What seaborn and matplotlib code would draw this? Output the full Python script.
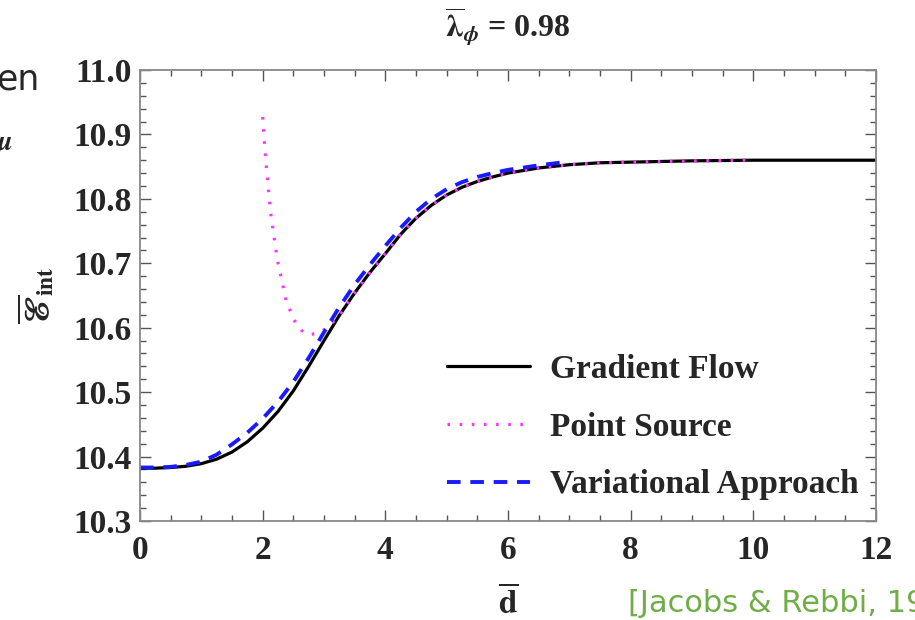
import seaborn as sns
import matplotlib.pyplot as plt
import matplotlib.ticker as mticker
import pandas as pd

# values
gf_d = [0, 0.25, 0.5, 0.75, 1.0, 1.25, 1.5, 1.75, 2.0, 2.25, 2.5, 2.75, 3.0, 3.25,
        3.5, 3.75, 4.0, 4.25, 4.5, 4.75, 5.0, 5.25, 5.5, 5.75, 6.0, 6.5, 7.0, 7.5,
        8.0, 9.0, 10.0, 12.0]
gf_e = [10.382, 10.382, 10.383, 10.385, 10.389, 10.396, 10.407, 10.423, 10.444,
        10.470, 10.502, 10.540, 10.580, 10.619, 10.654, 10.686, 10.715, 10.745,
        10.770, 10.790, 10.806, 10.818, 10.827, 10.834, 10.840, 10.848, 10.853,
        10.856, 10.857, 10.859, 10.860, 10.860]

ps_d = [2.0, 2.05, 2.13, 2.24, 2.38, 2.51, 2.63, 2.75, 2.92, 3.07, 3.25, 3.5, 3.75,
        4.0, 4.25, 4.5, 4.75, 5.0, 5.25, 5.5, 5.75, 6.0, 6.5, 7.0, 7.5, 8.0, 9.0, 9.9]
ps_e = [10.927, 10.860, 10.778, 10.705, 10.643, 10.612, 10.596, 10.589, 10.592,
        10.601, 10.619, 10.654, 10.686, 10.715, 10.745, 10.770, 10.790, 10.806,
        10.818, 10.827, 10.834, 10.840, 10.848, 10.853, 10.856, 10.857, 10.859, 10.860]

va_d = [0, 0.25, 0.5, 0.75, 1.0, 1.25, 1.5, 1.75, 2.0, 2.25, 2.5, 2.75, 3.0, 3.25,
        3.5, 3.75, 4.0, 4.25, 4.5, 4.75, 5.0, 5.25, 5.5, 5.75, 6.0, 6.5, 7.0]
va_e = [10.383, 10.383, 10.384, 10.387, 10.392, 10.403, 10.419, 10.437, 10.459,
        10.485, 10.516, 10.553, 10.593, 10.632, 10.667, 10.698, 10.727, 10.755,
        10.780, 10.800, 10.815, 10.826, 10.834, 10.840, 10.845, 10.852, 10.858]

sns.set_theme(style="ticks")
plt.rcParams['font.family'] = ['Liberation Serif', 'DejaVu Serif']
plt.rcParams['font.weight'] = 'bold'
plt.rcParams['mathtext.fontset'] = 'stix'

fig = plt.figure(figsize=(9.15, 6.2), dpi=100)
ax = fig.add_axes([140 / 915, 1 - 521 / 620, 736 / 915, 451 / 620])

gf = pd.DataFrame({"d": gf_d, "E": gf_e})
ps = pd.DataFrame({"d": ps_d, "E": ps_e})
va = pd.DataFrame({"d": va_d, "E": va_e})

sns.lineplot(data=gf, x="d", y="E", ax=ax, color="black", lw=2.3,
             label="Gradient Flow", sort=False)
sns.lineplot(data=ps, x="d", y="E", ax=ax, color="#ff33ff", lw=2.3,
             label="Point Source", sort=False)
sns.lineplot(data=va, x="d", y="E", ax=ax, color="#1a1aff", lw=2.8,
             label="Variational Approach", sort=False)
ax.lines[1].set_linestyle((0, (0.8, 3.0)))
ax.lines[2].set_linestyle((0, (3.5, 2.5)))

ax.set_xlim(0, 12)
ax.set_ylim(10.3, 11.0)
ax.xaxis.set_major_locator(mticker.MultipleLocator(2))
ax.xaxis.set_minor_locator(mticker.MultipleLocator(0.5))
ax.yaxis.set_major_locator(mticker.MultipleLocator(0.1))
ax.yaxis.set_minor_locator(mticker.MultipleLocator(0.02))
ax.xaxis.set_major_formatter(mticker.FormatStrFormatter('%d'))
ax.yaxis.set_major_formatter(mticker.FormatStrFormatter('%.1f'))
ax.tick_params(which='both', direction='in', top=True, right=True,
               color='#555555', labelsize=24, width=1)
ax.tick_params(which='major', length=8, pad=6)
ax.tick_params(axis='x', which='major', pad=10)
ax.tick_params(which='minor', length=4)
for s in ax.spines.values():
    s.set_color('#888888')
    s.set_linewidth(1.3)

ax.set_title(r'$\mathbf{\overline{\lambda}}_{\phi}$ = 0.98', fontsize=23,
             fontweight='bold', pad=24)
ax.set_xlabel(r'$\overline{\mathbf{d}}$', fontsize=24, labelpad=14)
ax.set_ylabel('$\\overline{\u2130}_{\\mathbf{int}}$', fontsize=24,
              fontweight='normal', labelpad=12)

ax.legend(loc='upper left', bbox_to_anchor=(0.417, 0.37), frameon=False,
          fontsize=24, handlelength=2.5, handletextpad=0.6, labelspacing=0.8,
          borderpad=0, borderaxespad=0)

# slide leftovers around the cropped figure
fig.text(-0.004, 0.872, 'en', fontsize=25, family='DejaVu Sans',
         fontweight='normal', va='center', ha='left')
fig.text(-0.006, 0.765, r'$\mu$', fontsize=20, va='center', ha='left')
fig.text(0.686, 0.027, '[Jacobs & Rebbi, 1979]', fontsize=22,
         family='DejaVu Sans', fontweight='normal', color='#70ad47',
         va='center', ha='left')

fig.savefig("out.png", dpi=100)
